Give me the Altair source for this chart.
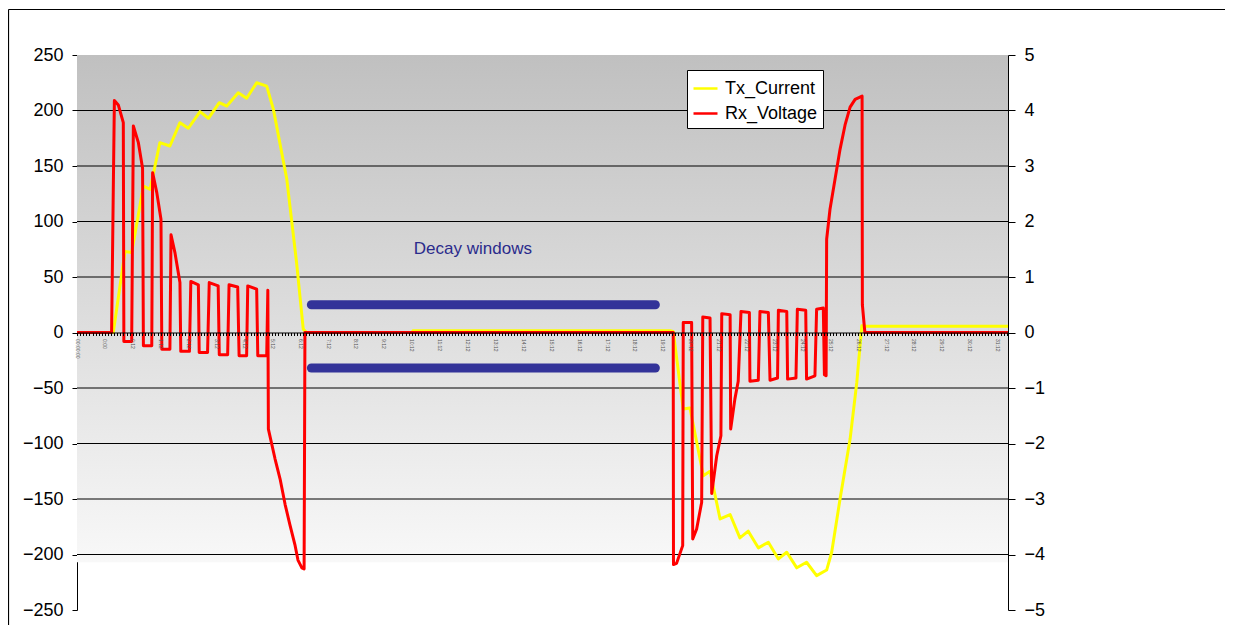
import json
import altair as alt
import pandas as pd

# ---- data (x in axis-category units) ----
tx_t = [0, 1.30, 1.72, 1.96, 2.38, 2.62, 2.97, 3.33, 3.69, 3.99, 4.41, 4.71, 5.10, 5.37,
        5.78, 6.08, 6.44, 6.80, 7.04, 7.52, 7.87, 8.11, 8.23, 12.01, 12.04, 21.25, 21.37,
        21.73, 21.97, 22.45, 22.69, 23.05, 23.41, 23.76, 24.06, 24.42, 24.78, 25.14, 25.44,
        25.80, 26.15, 26.51, 26.87, 27.05, 27.35, 27.71, 27.95, 28.13, 28.28, 33.37]
tx_current = [0, 0, 73, 72, 132, 129, 171, 168, 189, 184, 199, 193, 207, 204,
              216, 211, 225, 222, 201, 138, 63, 3, 0, 0, 1.5, 1.5, 1,
              -69, -68, -129, -125, -168, -164, -185, -179, -194, -189, -204, -198,
              -212, -207, -219, -214, -198, -150, -96, -45, 6, 5.7, 5.7]

rx_t = [0, 1.24, 1.30, 1.34, 1.48, 1.66, 1.68, 1.96, 2.02, 2.20, 2.35, 2.38, 2.68, 2.71,
        2.86, 3.01, 3.04, 3.33, 3.37, 3.51, 3.69, 3.72, 4.03, 4.08, 4.35, 4.38, 4.68, 4.74,
        5.06, 5.10, 5.40, 5.45, 5.76, 5.81, 6.08, 6.12, 6.44, 6.48, 6.80, 6.84, 6.86, 7.10,
        7.28, 7.46, 7.63, 7.81, 7.92, 8.06, 8.14, 8.17, 21.37, 21.38, 21.49, 21.71, 21.73,
        22.03, 22.07, 22.21, 22.39, 22.43, 22.69, 22.75, 22.93, 23.08, 23.11, 23.41, 23.43,
        23.58, 23.70, 23.80, 24.10, 24.12, 24.42, 24.48, 24.78, 24.84, 25.11, 25.14, 25.44,
        25.47, 25.77, 25.82, 26.12, 26.15, 26.45, 26.51, 26.75, 26.79, 26.85, 26.87, 26.99,
        27.17, 27.35, 27.53, 27.71, 27.89, 28.14, 28.15, 28.24, 33.37]
rx_voltage = [0, 0, 2.54, 4.18, 4.10, 3.78, -0.16, -0.16, 3.72, 3.42, 2.96, -0.24, -0.24, 2.88,
              2.52, 2.04, -0.30, -0.30, 1.76, 1.44, 0.90, -0.34, -0.34, 0.92, 0.86, -0.36, -0.36, 0.90,
              0.84, -0.40, -0.40, 0.86, 0.82, -0.42, -0.42, 0.84, 0.78, -0.42, -0.42, 0.76, -1.74, -2.28,
              -2.64, -3.10, -3.46, -3.82, -4.10, -4.24, -4.26, 0, 0, -4.18, -4.16, -3.84, 0.18,
              0.18, -3.72, -3.54, -3.06, 0.28, 0.26, -2.90, -2.22, -1.86, 0.34, 0.32, -1.74,
              -1.20, -0.88, 0.38, 0.36, -0.88, -0.86, 0.38, 0.36, -0.86, -0.82, 0.40, 0.38,
              -0.84, -0.82, 0.42, 0.40, -0.84, -0.78, 0.42, 0.44, -0.76, -0.78, 1.68, 2.22,
              2.76, 3.30, 3.74, 4.06, 4.20, 4.26, 0.50, 0, 0]

series_names = ["Tx_Current", "Rx_Voltage"]
series_colors = ["#ffff00", "#ff0000"]

decay_start = [8.40, 8.40]
decay_end = [20.73, 20.73]
decay_level = [25, -32]
note_text = ["Decay windows"]
note_t = [14.19]
note_y = [75]

grid_levels = [-200, -150, -100, -50, 50, 100, 150, 200]
left_ticks = list(range(-250, 251, 50))
right_ticks = list(range(-5, 6))
x_labels = ["00:00:00", "0:00"] + [f"{k}:12" for k in range(32)]

XMAX = 33.37
W, H = 931, 555
FONT = "Liberation Sans"

xs = alt.Scale(domain=[0, XMAX], nice=False, zero=False)
yl = alt.Scale(domain=[-250, 250], nice=False, zero=False)
yr = alt.Scale(domain=[-5, 5], nice=False, zero=False)

tick_vals = [round(i / 9, 4) for i in range(0, int(XMAX * 9) + 1)]
label_expr = ("abs(datum.value - round(datum.value)) < 0.001 ? "
              + json.dumps(x_labels) + "[round(datum.value)] : ''")

x_axis = alt.Axis(orient="bottom", offset=-H / 2, values=tick_vals, labelExpr=label_expr,
                  labelAngle=90, labelAlign="left", labelBaseline="middle", labelFontSize=5,
                  labelColor="#555555", labelPadding=3, labelOverlap=False, labelFlush=False,
                  tickSize=3, tickColor="black", domainColor="black", domainWidth=1, grid=False,
                  zindex=1)
yl_axis = alt.Axis(orient="left", values=left_ticks, grid=False, tickSize=5, tickColor="black",
                   domainColor="black", labelFontSize=18, labelColor="black", labelPadding=9,
                   labelFont=FONT)
yr_axis = alt.Axis(orient="right", values=right_ticks, grid=False, tickSize=7, tickColor="black",
                   domainColor="black", labelFontSize=18, labelColor="black", labelPadding=9,
                   labelFont=FONT)

X = lambda f: alt.X(f, type="quantitative", scale=xs, axis=x_axis, title=None)
YL = lambda f: alt.Y(f, type="quantitative", scale=yl, axis=yl_axis, title=None)

bg = alt.Chart(pd.DataFrame({"t": [0.0], "t2": [XMAX], "v": [250], "v2": [-207]})).mark_rect(
    color=alt.Gradient(gradient="linear", x1=0, x2=0, y1=0, y2=1,
                       stops=[alt.GradientStop(color="#c0c0c0", offset=0),
                              alt.GradientStop(color="#f8f8f8", offset=1)])
).encode(x=X("t"), x2="t2", y=YL("v"), y2="v2")

grid = alt.Chart(pd.DataFrame({"v": grid_levels})).mark_rule(color="black", strokeWidth=1).encode(
    y=YL("v"), x=alt.value(0), x2=alt.value(W))

frame = pd.DataFrame({"k": [0]})
border_top = alt.Chart(frame).mark_rule(color="black", strokeWidth=1.2).encode(
    x=alt.value(-68.5), x2=alt.value(W + 400), y=alt.value(-45.5))
border_left = alt.Chart(frame).mark_rule(color="black", strokeWidth=1.2).encode(
    x=alt.value(-68.5), y=alt.value(-45.5), y2=alt.value(H + 200))

tx_df = pd.DataFrame({"t": tx_t, "v": tx_current, "s": series_names[0]})
tx_line = alt.Chart(tx_df).mark_line(strokeWidth=3, strokeJoin="round").encode(
    x=X("t"), y=YL("v"),
    color=alt.Color("s:N", scale=alt.Scale(domain=series_names, range=series_colors),
                    legend=alt.Legend(title=None)))

bars_df = pd.DataFrame({"t": decay_start, "t2": decay_end, "v": decay_level})
bars = alt.Chart(bars_df).mark_rule(color="#333399", strokeWidth=9, strokeCap="round").encode(
    x=X("t"), x2="t2", y=YL("v"))

note = alt.Chart(pd.DataFrame({"t": note_t, "v": note_y, "txt": note_text})).mark_text(
    font=FONT, fontSize=17, color="#2b2b8c").encode(x=X("t"), y=YL("v"), text="txt:N")

inner = alt.layer(bg, grid, border_top, border_left, bars, note, tx_line)

rx_df = pd.DataFrame({"t": rx_t, "v": rx_voltage, "s": series_names[1]})
rx_line = alt.Chart(rx_df).mark_line(strokeWidth=3, strokeJoin="round").encode(
    x=X("t"),
    y=alt.Y("v:Q", scale=yr, axis=yr_axis, title=None),
    color=alt.Color("s:N", scale=alt.Scale(domain=series_names, range=series_colors),
                    legend=alt.Legend(title=None)))

chart = alt.layer(inner, rx_line).resolve_scale(y="independent").properties(
    width=W, height=H,
    autosize=alt.AutoSizeParams(type="none"),
    padding={"left": 69, "top": 47, "right": 217, "bottom": 15},
    background="white",
).configure_view(stroke=None).configure_legend(
    orient="none", legendX=610, legendY=15, padding=5, strokeColor="black", fillColor="white",
    cornerRadius=0, labelFont=FONT, labelFontSize=18, labelColor="black", symbolType="stroke",
    symbolSize=576, symbolStrokeWidth=2.5, rowPadding=2, labelOffset=6,
).configure_axis(labelFont=FONT)

chart.save("out.html", embed_options={"renderer": "svg", "actions": False})
